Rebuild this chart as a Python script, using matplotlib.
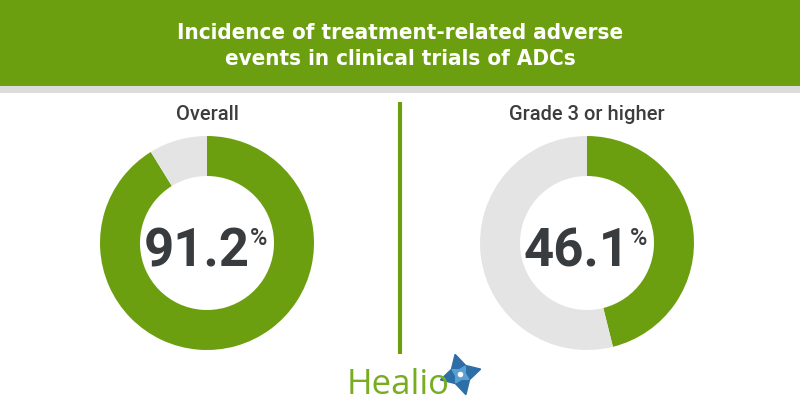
import matplotlib
matplotlib.use("Agg")
from matplotlib import pyplot as plt
from matplotlib.patches import Rectangle

title = "Incidence of treatment-related adverse\nevents in clinical trials of ADCs"
labels = ["Overall", "Grade 3 or higher"]
values = [91.2, 46.1]
value_text = ["91.2", "46.1"]

green = "#6c9f10"
grey = "#e4e4e4"
dark = "#393c3f"

fig = plt.figure(figsize=(8, 4.2), dpi=100)
ax = fig.add_axes([0, 0, 1, 1])

centers = [(207, 177), (587, 177)]
for (cx, cy), lab, v, txt in zip(centers, labels, values, value_text):
    ax.pie([v, 100 - v], colors=[green, grey], center=(cx, cy), radius=107,
           startangle=90, counterclock=False,
           wedgeprops=dict(width=40, linewidth=0))
    ax.text(cx, 305, lab, ha="center", va="center", fontsize=14.5,
            fontfamily="Roboto", fontweight="medium", color="#3d3d3d")
    ax.text(cx - 10, 168, txt, ha="center", va="center", fontsize=38,
            fontfamily="Roboto", fontweight="bold", color=dark)
    ax.text(cx + 43, 193, "%", ha="left", va="top", fontsize=17,
            fontfamily="Roboto", fontweight="medium", color=dark)

# header banner
ax.add_patch(Rectangle((0, 334), 800, 86, color=green, lw=0))
ax.add_patch(Rectangle((0, 327), 800, 7, color="#dcdcdc", lw=0))
ax.text(400, 374, title, ha="center", va="center", fontsize=16,
        fontfamily="DejaVu Sans", fontstretch="condensed", fontweight="bold",
        color="white", linespacing=1.35)

# divider
ax.plot([400, 400], [66, 318], color=green, lw=3, solid_capstyle="butt")

# logo
ax.text(398, 35, "Healio", ha="center", va="center", fontsize=25,
        fontfamily="Open Sans", color="#78ad22")
ax.plot([460], [46], marker=(4, 1, 15), markersize=30, color="#2d6ea7", lw=0)
ax.plot([460], [46], marker=(4, 1, 60), markersize=14, color="#5aa0d0", lw=0)
ax.plot([460], [46], marker="o", markersize=3, color="white", lw=0)

ax.set_xlim(0, 800)
ax.set_ylim(0, 420)
ax.set_aspect("auto")
ax.axis("off")

fig.savefig("out.png", dpi=100)
